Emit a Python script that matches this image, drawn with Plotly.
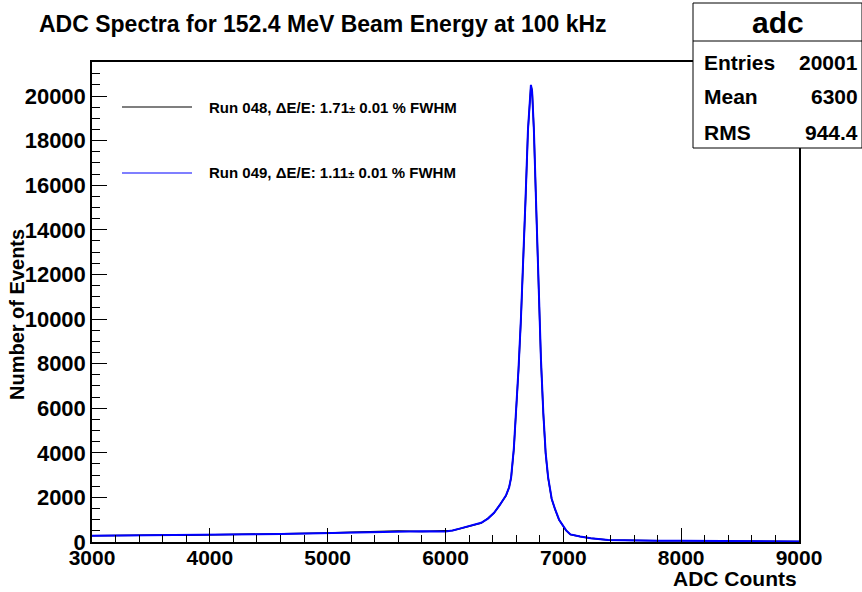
import plotly.graph_objects as go

# ---------------- data ----------------
adc_049 = [3000, 3200, 3400, 3600, 3800, 4000, 4200, 4400, 4600, 4800, 5000, 5200, 5400,
           5600, 5800, 6000, 6060, 6120, 6183, 6250, 6303, 6360, 6412, 6460, 6514, 6540,
           6557, 6580, 6600, 6620, 6640, 6660, 6680, 6700, 6715, 6725, 6735, 6750, 6770,
           6790, 6810, 6830, 6850, 6871, 6901, 6930, 6964, 7024, 7060, 7142, 7232, 7380,
           7584, 7800, 8000, 8200, 8400, 8600, 8800, 9000]
cnt_049 = [285, 290, 300, 305, 310, 316, 330, 345, 360, 380, 410, 430, 455,
           490, 480, 475, 520, 600, 700, 790, 860, 1050, 1310, 1650, 2100, 2450,
           2900, 4200, 5800, 7800, 10000, 12500, 15500, 18500, 20100, 20500, 20200, 18500, 15000,
           11500, 8200, 5800, 4000, 2900, 1940, 1470, 1000, 520, 340, 250, 170, 90,
           60, 58, 55, 50, 42, 35, 28, 25]

adc_048 = [3000, 3200, 3400, 3600, 3800, 4000, 4200, 4400, 4600, 4800, 5000, 5200, 5400,
           5600, 5800, 6000, 6060, 6120, 6183, 6250, 6303, 6360, 6412, 6460, 6514, 6540,
           6557, 6580, 6600, 6620, 6640, 6660, 6680, 6700, 6715, 6725, 6735, 6750, 6770,
           6790, 6810, 6830, 6850, 6871, 6901, 6930, 6964, 7024, 7060, 7142, 7232, 7380,
           7584, 7800, 8000, 8200, 8400, 8600, 8800, 9000]
cnt_048 = [280, 295, 295, 310, 305, 320, 325, 350, 355, 385, 405, 435, 450,
           495, 475, 480, 515, 595, 690, 800, 850, 1060, 1300, 1660, 2080, 2460,
           2880, 4150, 5750, 7750, 9950, 12450, 15450, 18450, 20050, 20450, 20250, 18450, 14950,
           11450, 8150, 5750, 3950, 2880, 1930, 1460, 990, 510, 335, 245, 165, 88,
           58, 56, 53, 48, 40, 33, 27, 24]

x_ticks = [3000, 4000, 5000, 6000, 7000, 8000, 9000]
x_ticktext = ["3000", "4000", "5000", "6000", "7000", "8000", "9000"]
y_ticks = [0, 2000, 4000, 6000, 8000, 10000, 12000, 14000, 16000, 18000, 20000]
y_ticktext = ["0", "2000", "4000", "6000", "8000", "10000", "12000", "14000", "16000",
              "18000", "20000"]

title_text = "ADC Spectra for 152.4 MeV Beam Energy at 100 kHz"
x_title = "ADC Counts"
y_title = "Number of Events"
legend_labels = ["Run 048, \u0394E/E: 1.71<span style='font-size:11px'>\u00b1</span> 0.01 % FWHM",
                 "Run 049, \u0394E/E: 1.11<span style='font-size:11px'>\u00b1</span> 0.01 % FWHM"]
stats_name = "adc"
stats_rows = [("Entries", "20001"), ("Mean", "6300"), ("RMS", "944.4")]

# ---------------- layout geometry (pixels) ----------------
W, H = 862, 592
L, R, T, B = 92, 799, 62, 542
FONT = "Liberation Sans"


def px(x):
    return (x - L) / (R - L)


def py(y):
    return (B - y) / (B - T)


fig = go.Figure()
fig.add_trace(go.Scatter(x=adc_048, y=cnt_048, mode="lines",
                         line=dict(color="black", width=1.5), showlegend=False,
                         hoverinfo="skip"))
fig.add_trace(go.Scatter(x=adc_049, y=cnt_049, mode="lines",
                         line=dict(color="#0000ff", width=2), showlegend=False,
                         hoverinfo="skip"))

axis_common = dict(showgrid=False, zeroline=False, showline=True, linecolor="black",
                   linewidth=1.5, mirror=True, ticks="inside", tickcolor="black",
                   tickwidth=1)

fig.update_xaxes(range=[3000, 9000], tickvals=x_ticks, ticktext=x_ticktext, ticklen=14,
                 minor=dict(dtick=200, ticklen=7, ticks="inside", tickcolor="black"),
                 ticklabelstandoff=-4,
                 tickfont=dict(family=FONT, size=21, color="black", weight="bold"),
                 **axis_common)
fig.update_yaxes(range=[0, 21525], tickvals=y_ticks, ticktext=y_ticktext, ticklen=15,
                 minor=dict(dtick=500, ticklen=8, ticks="inside", tickcolor="black"),
                 tickfont=dict(family=FONT, size=22, color="black", weight="bold"),
                 **axis_common)

shapes = []
annotations = []

# main title
annotations.append(dict(xref="paper", yref="paper", x=px(37), y=py(24), xanchor="left",
                        yanchor="middle", showarrow=False, text=title_text,
                        font=dict(family=FONT, size=23, color="black", weight="bold")))
# axis titles
annotations.append(dict(xref="paper", yref="paper", x=px(R), y=py(578), xanchor="right",
                        yanchor="middle", showarrow=False, text=x_title,
                        font=dict(family=FONT, size=21, color="black", weight="bold")))
annotations.append(dict(xref="paper", yref="paper", x=px(17), y=py(315), xanchor="center",
                        yanchor="middle", showarrow=False, text=y_title, textangle=-90,
                        font=dict(family=FONT, size=20, color="black", weight="bold")))

# legend
leg_y = [107, 173]
leg_col = ["black", "#0000ff"]
for yy, col, lab in zip(leg_y, leg_col, legend_labels):
    shapes.append(dict(type="line", xref="paper", yref="paper", x0=px(122), x1=px(192),
                       y0=py(yy), y1=py(yy), line=dict(color=col, width=1.2)))
    annotations.append(dict(xref="paper", yref="paper", x=px(207), y=py(yy), xanchor="left",
                            yanchor="middle", showarrow=False, text=lab,
                            font=dict(family=FONT, size=15, color="black", weight="bold")))

# stats box
bx0, bx1, by0, by1 = 693, 862, 3, 148
shapes.append(dict(type="rect", xref="paper", yref="paper", x0=px(bx0), x1=px(bx1),
                   y0=py(by0), y1=py(by1), fillcolor="white",
                   line=dict(color="black", width=1), layer="above"))
shapes.append(dict(type="line", xref="paper", yref="paper", x0=px(bx0), x1=px(bx1),
                   y0=py(41), y1=py(41), line=dict(color="black", width=1), layer="above"))
annotations.append(dict(xref="paper", yref="paper", x=px((bx0 + bx1) / 2), y=py(22),
                        xanchor="center", yanchor="middle", showarrow=False, text=stats_name,
                        font=dict(family=FONT, size=30, color="black", weight="bold")))
row_y = [62, 97, 132]
for yy, (k, v) in zip(row_y, stats_rows):
    annotations.append(dict(xref="paper", yref="paper", x=px(702), y=py(yy), xanchor="left",
                            yanchor="middle", showarrow=False, text=k,
                            font=dict(family=FONT, size=21, color="black", weight="bold")))
    annotations.append(dict(xref="paper", yref="paper", x=px(860), y=py(yy), xanchor="right",
                            yanchor="middle", showarrow=False, text=v,
                            font=dict(family=FONT, size=21, color="black", weight="bold")))

fig.update_layout(width=W, height=H, margin=dict(l=L, r=W - R, t=T, b=H - B),
                  paper_bgcolor="white", plot_bgcolor="white",
                  shapes=shapes, annotations=annotations, showlegend=False)

fig.write_html("out.html")
